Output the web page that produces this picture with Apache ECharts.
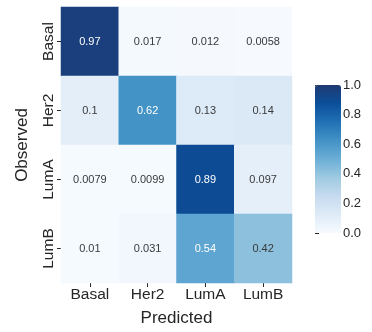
<!DOCTYPE html>
<html>
<head>
<meta charset="utf-8">
<style>
  html, body { margin: 0; padding: 0; background: #ffffff; }
  #chart { width: 372px; height: 332px; }
</style>
<script src="https://cdn.jsdelivr.net/npm/echarts@6/dist/echarts.min.js"></script>
</head>
<body>
<div id="chart"></div>
<script>
// Confusion matrix of subtype predictions (rows: observed, columns: predicted)
const classes = ['Basal', 'Her2', 'LumA', 'LumB'];
const rowBasal = [0.97, 0.017, 0.012, 0.0058];
const rowHer2  = [0.1, 0.62, 0.13, 0.14];
const rowLumA  = [0.0079, 0.0099, 0.89, 0.097];
const rowLumB  = [0.01, 0.031, 0.54, 0.42];
const rows = [rowBasal, rowHer2, rowLumA, rowLumB];
const colorbarTicks = [0, 0.2, 0.4, 0.6, 0.8, 1.0];

// "Blues" sequential palette (top end slightly muted)
const blues = ['#f7fbff', '#deebf7', '#c6dbef', '#9ecae1', '#6baed6',
               '#4292c6', '#2171b5', '#0b4f9a', '#1f3a72'];

const font = 'Liberation Sans, Arial, Helvetica, sans-serif';
const textDark = '#262626';

const cells = [];
rows.forEach((vals, r) => {
  vals.forEach((v, c) => {
    cells.push({
      value: [c, r, v],
      label: { color: v > 0.5 ? '#ffffff' : '#3a3a3a' }
    });
  });
});

const chart = echarts.init(document.getElementById('chart'), null, { renderer: 'canvas' });
chart.setOption({
  animation: false,
  backgroundColor: '#ffffff',
  textStyle: { fontFamily: font },
  grid: [
    { left: 61, top: 7, width: 231, height: 276 },
    { left: 315, top: 85, width: 26, height: 148 }
  ],
  xAxis: [
    {
      type: 'category', gridIndex: 0, data: classes,
      position: 'bottom',
      axisLine: { show: false },
      axisTick: { show: true, alignWithLabel: true, length: 4, lineStyle: { color: textDark, width: 1 } },
      axisLabel: { color: textDark, fontSize: 15.5, margin: 4, fontFamily: font },
      splitLine: { show: false },
      name: 'Predicted', nameLocation: 'middle', nameGap: 27,
      nameTextStyle: { color: textDark, fontSize: 17, fontFamily: font }
    },
    {
      type: 'value', gridIndex: 1, show: false, min: 0, max: 1
    }
  ],
  yAxis: [
    {
      type: 'category', gridIndex: 0, data: classes, inverse: true,
      axisLine: { show: false },
      axisTick: { show: true, alignWithLabel: true, length: 4, lineStyle: { color: textDark, width: 1 } },
      axisLabel: { color: textDark, fontSize: 15.5, margin: 4, rotate: 90, fontFamily: font },
      splitLine: { show: false },
      name: 'Observed', nameLocation: 'middle', nameGap: 30, nameRotate: 90,
      nameTextStyle: { color: textDark, fontSize: 17, fontFamily: font }
    },
    {
      type: 'value', gridIndex: 1, position: 'right', min: 0, max: 1, interval: 0.2,
      axisLine: { show: false },
      axisTick: { show: true, length: 4, lineStyle: { color: textDark, width: 1 } },
      axisLabel: {
        color: textDark, fontSize: 13, margin: 2, fontFamily: font,
        formatter: v => colorbarTicks.some(t => Math.abs(t - v) < 1e-9) ? v.toFixed(1) : ''
      },
      splitLine: { show: false }
    }
  ],
  visualMap: {
    type: 'continuous',
    min: 0, max: 1,
    seriesIndex: 0,
    calculable: false,
    orient: 'vertical',
    left: 315, top: 85,
    padding: 0,
    itemWidth: 26, itemHeight: 148,
    text: null,
    showLabel: false,
    inRange: { color: blues }
  },
  series: [{
    type: 'heatmap',
    xAxisIndex: 0, yAxisIndex: 0,
    data: cells,
    label: {
      show: true, fontSize: 11, fontFamily: font,
      formatter: p => String(p.value[2])
    },
    itemStyle: { borderWidth: 0 },
    emphasis: { disabled: true }
  }]
});
</script>
</body>
</html>
